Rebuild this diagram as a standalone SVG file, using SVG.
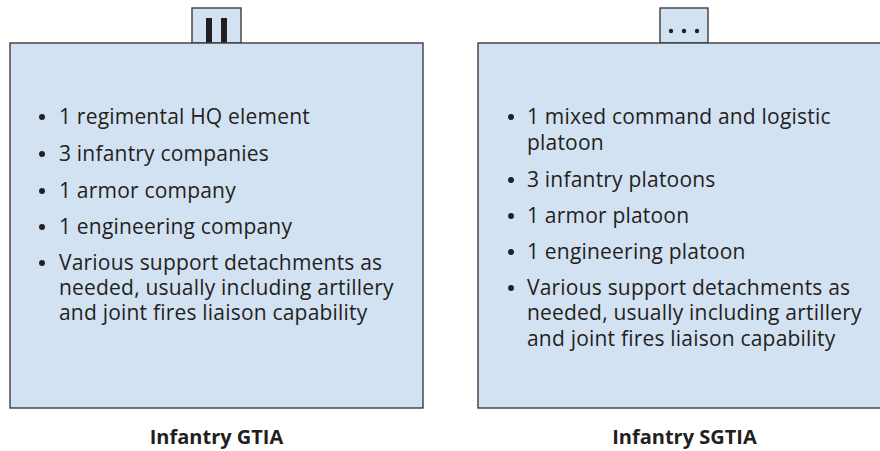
<svg xmlns="http://www.w3.org/2000/svg" width="880" height="451" viewBox="0 0 880 451">
<style>
.box{fill:#d3e2f2;stroke:#3c3c3c;stroke-width:1.4}
.t{font-family:"Open Sans","Noto Sans","Liberation Sans",sans-serif;font-size:21px;letter-spacing:0.2px;fill:#231f20}
.lbl{font-family:"Open Sans","Noto Sans","Liberation Sans",sans-serif;font-size:20px;font-weight:bold;fill:#231f20;text-anchor:middle}
.b{fill:#231f20}
</style>
<rect width="880" height="451" fill="#ffffff"/>
<g id="gtia">
<rect class="box" x="192" y="8" width="49" height="35"/>
<rect class="b" x="206" y="18" width="6" height="25"/>
<rect class="b" x="221" y="18" width="6" height="25"/>
<rect class="box" x="10" y="43" width="413" height="365"/>
<g class="t">
<circle class="b" cx="42" cy="117" r="3"/><text x="59" y="124">1 regimental HQ element</text>
<circle class="b" cx="42" cy="154" r="3"/><text x="59" y="161">3 infantry companies</text>
<circle class="b" cx="42" cy="191" r="3"/><text x="59" y="198">1 armor company</text>
<circle class="b" cx="42" cy="227" r="3"/><text x="59" y="234">1 engineering company</text>
<circle class="b" cx="42" cy="263" r="3"/><text x="59" y="270">Various support detachments as</text>
<text x="59" y="295">needed, usually including artillery</text>
<text x="59" y="320">and joint fires liaison capability</text>
</g>
<text class="lbl" x="216.5" y="444">Infantry GTIA</text>
</g>
<g id="sgtia">
<rect class="box" x="660" y="8" width="48" height="35"/>
<circle class="b" cx="671" cy="31" r="2.2"/>
<circle class="b" cx="684" cy="31" r="2.2"/>
<circle class="b" cx="697" cy="31" r="2.2"/>
<rect class="box" x="478" y="43" width="413" height="365"/>
<g class="t">
<circle class="b" cx="511" cy="117" r="3"/><text x="527" y="124">1 mixed command and logistic</text>
<text x="527" y="150">platoon</text>
<circle class="b" cx="511" cy="180" r="3"/><text x="527" y="187">3 infantry platoons</text>
<circle class="b" cx="511" cy="216" r="3"/><text x="527" y="223">1 armor platoon</text>
<circle class="b" cx="511" cy="252" r="3"/><text x="527" y="259">1 engineering platoon</text>
<circle class="b" cx="511" cy="288" r="3"/><text x="527" y="295">Various support detachments as</text>
<text x="527" y="320">needed, usually including artillery</text>
<text x="527" y="346">and joint fires liaison capability</text>
</g>
<text class="lbl" x="684.5" y="444">Infantry SGTIA</text>
</g>
<g id="connectors"/>
</svg>
